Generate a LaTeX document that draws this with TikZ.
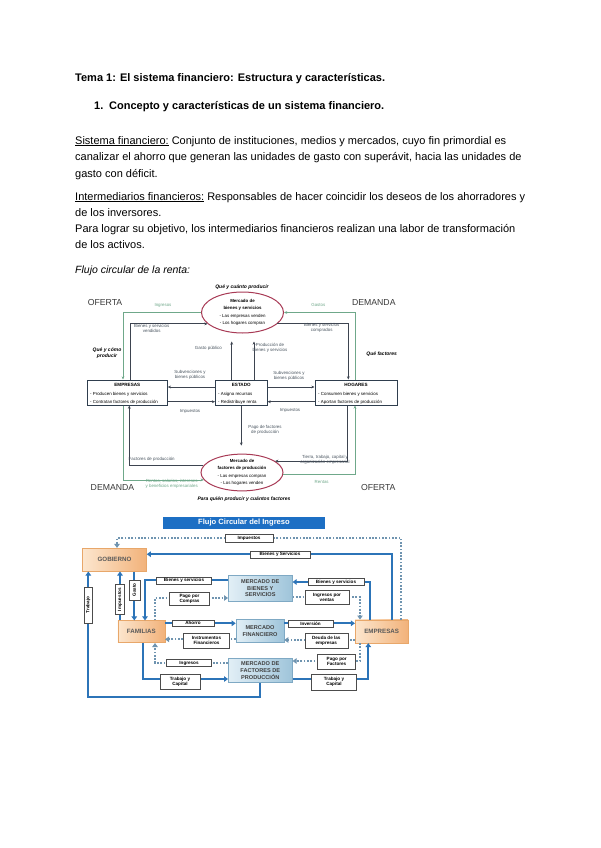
\documentclass[tikz,border=0pt]{standalone}
\usepackage{fontspec}
\setmainfont{Liberation Sans}
\usetikzlibrary{shapes.geometric,arrows.meta,calc}
\definecolor{dkl}{HTML}{3D4450}
\definecolor{grn}{HTML}{6FA88A}
\definecolor{lbl}{HTML}{4A5560}
\definecolor{bigc}{HTML}{3A3A3A}
\definecolor{boxb}{HTML}{2F3E4E}
\definecolor{ellc}{HTML}{A83A55}
\definecolor{bbl}{HTML}{2C74B8}
\definecolor{dotc}{HTML}{6F94B0}
\definecolor{tblue}{HTML}{1D6FC4}
\definecolor{peachA}{HTML}{FCE6CE}
\definecolor{peachB}{HTML}{F2B27A}
\definecolor{peachD}{HTML}{E8A76A}
\definecolor{blueA}{HTML}{E2EFF6}
\definecolor{blueB}{HTML}{9EC4DA}
\definecolor{blueD}{HTML}{7FA9C4}
\begin{document}
\begin{tikzpicture}[x=1pt,y=-1pt,
  body/.style={anchor=base west, inner sep=0pt, font=\fontsize{11}{13}\selectfont},
  tl/.style={inner sep=0pt, font=\fontsize{4.4}{5}\selectfont, text=lbl, align=center},
  tlg/.style={tl, text=grn},
  bigw/.style={inner sep=0pt, font=\fontsize{8.7}{10}\selectfont, text=bigc},
  qtext/.style={inner sep=0pt, font=\fontsize{5}{5.6}\selectfont\bfseries\itshape, text=black, align=center},
  sbox/.style={draw=boxb, line width=1pt, fill=white, inner sep=0pt, minimum width=#1, minimum height=25pt},
  inb/.style={inner sep=0pt, font=\fontsize{4.4}{5}\selectfont, text=black},
  ell/.style={ellipse, draw=ellc, line width=1pt, fill=white, inner sep=0pt, minimum width=82pt, minimum height=#1, align=center, font=\fontsize{4.4}{7.3}\selectfont},
  dl/.style={draw=dkl, line width=0.7pt, -{Stealth[length=3.2pt,width=2.8pt]}},
  gl/.style={draw=grn, line width=0.7pt, -{Stealth[length=3.2pt,width=2.8pt]}},
  pbox/.style={draw=peachD, line width=0.6pt, left color=peachA, right color=peachB, inner sep=0pt, font=\fontsize{6.2}{7}\selectfont\bfseries, text=black!65},
  mbox/.style={draw=blueD, line width=0.6pt, left color=blueA, right color=blueB, inner sep=0pt, align=center, font=\fontsize{5.6}{6.6}\selectfont\bfseries, text=black!75},
  bl/.style={draw=bbl, line width=1.8pt, -{Triangle[length=4pt,width=5.5pt]}},
  dotl/.style={draw=dotc, line width=1.8pt, dash pattern=on 1.7pt off 1.6pt, -{Triangle[length=4pt,width=5.5pt]}},
  lbox/.style={draw=black!70, line width=0.6pt, fill=white, inner sep=0.3pt, align=center, font=\fontsize{4.6}{5.2}\selectfont\bfseries}
]
\useasboundingbox (0,0) rectangle (600,848);
\fill[white] (0,0) rectangle (600,848);

% ---------------- body text ----------------
\node[body, font=\fontsize{11}{13}\selectfont\bfseries] (t1) at (75,82) {Tema 1: El sistema financiero: Estructura y características.};
\node[body, font=\fontsize{11}{13}\selectfont\bfseries] (t2a) at (94,110) {1.};
\node[body, font=\fontsize{11}{13}\selectfont\bfseries] (t2) at (109,110) {Concepto y características de un sistema financiero.};
\node[body] (t3) at (75,144) {\underline{Sistema financiero:} Conjunto de instituciones, medios y mercados, cuyo fin primordial es};
\node[body] (t4) at (75,160.7) {canalizar el ahorro que generan las unidades de gasto con superávit, hacia las unidades de};
\node[body] (t5) at (75,177.3) {gasto con déficit.};
\node[body] (t6) at (75,200) {\underline{Intermediarios financieros:} Responsables de hacer coincidir los deseos de los ahorradores y};
\node[body] (t7) at (75,216.3) {de los inversores.};
\node[body] (t8) at (75,232.7) {Para lograr su objetivo, los intermediarios financieros realizan una labor de transformación};
\node[body] (t9) at (75,248.7) {de los activos.};
\node[body, font=\fontsize{10.5}{12}\selectfont\itshape] (t10) at (75,273) {Flujo circular de la renta:};

% ---------------- diagram 1 ----------------
\node[ell=41pt] (ell1) at (242.5,312.5) {\textbf{Mercado de}\\\textbf{bienes y servicios}\\- Las empresas venden\\- Los hogares compran};
\node[ell=36pt] (ell2) at (242,472.5) {\textbf{Mercado de}\\\textbf{factores de producción}\\- Las empresas compran\\- Los hogares venden};
\node[sbox=80pt] (emp) at (127.3,392.5) {};
\node[sbox=51.5pt] (est) at (241.3,392.5) {};
\node[sbox=82pt] (hog) at (356,392.5) {};

\node[inb, font=\fontsize{4.6}{5}\selectfont\bfseries] (empT) at (127.3,385) {EMPRESAS};
\node[inb, anchor=west] (emp1) at (90,394) {- Producen bienes y servicios};
\node[inb, anchor=west] (emp2t) at (90,402) {- Contratan factores de producción};
\node[inb, font=\fontsize{4.6}{5}\selectfont\bfseries] (estT) at (241.3,385) {ESTADO};
\node[inb, anchor=west] (est1) at (218,394) {- Asigna recursos};
\node[inb, anchor=west] (est2) at (218,402) {- Redistribuye renta};
\node[inb, font=\fontsize{4.6}{5}\selectfont\bfseries] (hogT) at (356,385) {HOGARES};
\node[inb, anchor=west] (hog1) at (318,394) {- Consumen bienes y servicios};
\node[inb, anchor=west] (hog2) at (318,402) {- Aportan factores de producción};

\node[bigw] (of1) at (105,303) {OFERTA};
\node[bigw] (de1) at (373.8,303) {DEMANDA};
\node[bigw] (de2) at (112.5,487.5) {DEMANDA};
\node[bigw] (of2) at (378.3,487.5) {OFERTA};
\node[qtext] (q1) at (242,287.5) {Qué y cuánto producir};
\node[qtext] (q2) at (107,353) {Qué y cómo\\producir};
\node[qtext] (q3) at (381.7,354) {Qué factores};
\node[qtext] (q4) at (244,499) {Para quién producir y cuántos factores};

% connectors diagram 1
\draw[gl] (ell1.180) -| ([xshift=-4.3pt]emp.north);
\draw[dl] ([xshift=2.7pt]emp.north) |- (ell1.198);
\draw[gl] ([xshift=-1pt]hog.north) |- (ell1.0);
\draw[dl] (ell1.342) -| ([xshift=-7.7pt]hog.north);
\draw[dl, shorten >=8pt] ([xshift=-9.6pt]est.north) -- ([xshift=-9.6pt]est.north |- ell1.south);
\draw[dl, shorten >=8pt] ([xshift=12.7pt]est.north) -- ([xshift=12.7pt]est.north |- ell1.south);
\draw[dl] ([yshift=5.5pt]est.west) -- ([yshift=5.5pt]emp.east);
\draw[dl] ([yshift=-9.2pt]emp.east) -- ([yshift=-9.2pt]est.west);
\draw[dl] ([yshift=5.5pt]est.east) -- ([yshift=5.5pt]hog.west);
\draw[dl] ([yshift=-9.2pt]hog.west) -- ([yshift=-9.2pt]est.east);
\draw[dl, shorten >=8pt] (est.south) -- (est.south |- ell2.north);
\draw[dl] (ell2.170) -| ([xshift=2pt]emp.south);
\draw[gl] ([xshift=-4.3pt]emp.south) |- (ell2.191);
\draw[dl] ([xshift=-8.7pt]hog.south) |- (ell2.19);
\draw[gl] (ell2.357) -| ([xshift=-1pt]hog.south);

% labels diagram 1
\node[tlg] (la1) at (163,305) {Ingresos};
\node[tl] (la2) at (151.7,328) {Bienes y servicios\\vendidos};
\node[tlg] (la3) at (318.3,305) {Gastos};
\node[tl] (la4) at (321.7,328) {Bienes y servicios\\comprados};
\node[tl] (la5) at (208.3,348.3) {Gasto público};
\node[tl] (la6) at (270,348.3) {Producción de\\bienes y servicios};
\node[tl] (la7) at (190,375) {Subvenciones y\\bienes públicos};
\node[tl] (la8) at (289,375.5) {Subvenciones y\\bienes públicos};
\node[tl] (la9) at (190,411.5) {Impuestos};
\node[tl] (la10) at (290,410.5) {Impuestos};
\node[tl] (la11) at (265,430) {Pago de factores\\de producción};
\node[tl] (la12) at (151.7,459.3) {Factores de producción};
\node[tlg] (la13) at (171.7,484.3) {Rentas, salarios, intereses\\y beneficios empresariales};
\node[tl] (la14) at (325,460) {Tierra, trabajo, capital y\\organización empresarial};
\node[tlg] (la15) at (321.7,481.7) {Rentas};

% ---------------- diagram 2 ----------------
\node[fill=tblue, minimum width=162pt, minimum height=12pt, inner sep=0pt, text=white, font=\fontsize{7.6}{8}\selectfont\bfseries] (ftit) at (244,523) {Flujo Circular del Ingreso};

\node[pbox, minimum width=64pt, minimum height=23pt] (gob) at (114.5,559.7) {GOBIERNO};
\node[pbox, minimum width=47pt, minimum height=22pt] (fam) at (141.3,631.7) {FAMILIAS};
\node[pbox, minimum width=53pt, minimum height=23pt] (emp2) at (381.7,631.3) {EMPRESAS};
\node[mbox, minimum width=64pt, minimum height=26pt] (mbs) at (260.3,588.3) {MERCADO DE\\BIENES Y\\SERVICIOS};
\node[mbox, minimum width=48pt, minimum height=23pt] (mf) at (260,631) {MERCADO\\FINANCIERO};
\node[mbox, minimum width=64pt, minimum height=24pt] (mfp) at (260.3,670.5) {MERCADO DE\\FACTORES DE\\PRODUCCIÓN};

\coordinate (imptop) at (117,538);
\coordinate (botl) at (88.3,696.7);
\draw[dotl] ([xshift=-7.3pt]emp2.north east) |- (imptop) -- (imptop |- gob.north);
\draw[bl] ([xshift=-16.3pt]emp2.north east) |- ([yshift=5.5pt]gob.east);
\draw[bl] (mfp.south) |- (botl) -- (botl |- gob.south);
\draw[bl] ([xshift=-21.3pt]fam.north) -- ([xshift=-21.3pt]fam.north |- gob.south);
\draw[bl] ([xshift=19.8pt]gob.south) -- ([xshift=19.8pt]gob.south |- fam.north);
\draw[bl] ([yshift=8pt]mbs.west) -| ([xshift=3.7pt]fam.north);
\draw[dotl] ([xshift=13.7pt]fam.north) |- ([yshift=-9.7pt]mbs.west);
\draw[bl] ([xshift=-11.7pt]emp2.north) |- ([yshift=6.3pt]mbs.east);
\draw[dotl] ([yshift=-8.7pt]mbs.east) -| ([xshift=-21.7pt]emp2.north);
\draw[bl] ([yshift=8.4pt]fam.east) -- ([yshift=8.4pt]fam.east -| mf.west);
\draw[dotl] ([yshift=-8.3pt]mf.west) -- ([yshift=-8.3pt]mf.west -| fam.east);
\draw[bl] ([yshift=7.7pt]mf.east) -- ([yshift=7.7pt]mf.east -| emp2.west);
\draw[dotl] ([yshift=-8.7pt]emp2.west) -- ([yshift=-8.7pt]emp2.west -| mf.east);
\draw[dotl] ([yshift=7.8pt]mfp.west) -| ([xshift=13.7pt]fam.south);
\draw[bl] ([xshift=2pt]fam.south) |- ([yshift=-8.5pt]mfp.west);
\draw[dotl] ([xshift=-21.7pt]emp2.south) |- ([yshift=9.5pt]mfp.east);
\draw[bl] ([yshift=-8.5pt]mfp.east) -| ([xshift=-13.4pt]emp2.south);

\node[lbox, minimum width=48pt, minimum height=8pt] (l1) at (249,538) {Impuestos};
\node[lbox, minimum width=60pt, minimum height=7pt] (l2) at (280,554.5) {Bienes y Servicios};
\node[lbox, minimum width=55pt, minimum height=6.5pt] (l3) at (184,580.7) {Bienes y servicios};
\node[lbox, rotate=90, minimum width=20pt, minimum height=11pt] (l4) at (134.3,590) {Gasto};
\node[lbox, rotate=90, minimum width=30pt, minimum height=8.6pt] (l5) at (120,599.5) {Impuestos};
\node[lbox, rotate=90, minimum width=36pt, minimum height=8pt] (l6) at (88.3,605) {Trabajo};
\node[lbox, minimum width=40pt, minimum height=13pt] (l7) at (189.5,598.5) {Pago por\\Compras};
\node[lbox, minimum width=42pt, minimum height=6.5pt] (l8) at (193,623.3) {Ahorro};
\node[lbox, minimum width=46pt, minimum height=15pt] (l9) at (206.5,640.5) {Instrumentos\\Financieros};
\node[lbox, minimum width=45pt, minimum height=7pt] (l10) at (189,663) {Ingresos};
\node[lbox, minimum width=40pt, minimum height=15pt] (l11) at (180,681.5) {Trabajo y\\Capital};
\node[lbox, minimum width=56pt, minimum height=6.5pt] (l12) at (336,582) {Bienes y servicios};
\node[lbox, minimum width=44pt, minimum height=14pt] (l13) at (327,597.5) {Ingresos por\\ventas};
\node[lbox, minimum width=45pt, minimum height=7pt] (l14) at (310.5,623.5) {Inversión};
\node[lbox, minimum width=43pt, minimum height=15pt] (l15) at (326.3,640.5) {Deuda de las\\empresas};
\node[lbox, minimum width=38pt, minimum height=15pt] (l16) at (336.7,661.5) {Pago por\\Factores};
\node[lbox, minimum width=45pt, minimum height=16pt] (l17) at (334,682) {Trabajo y\\Capital};
\end{tikzpicture}
\end{document}
